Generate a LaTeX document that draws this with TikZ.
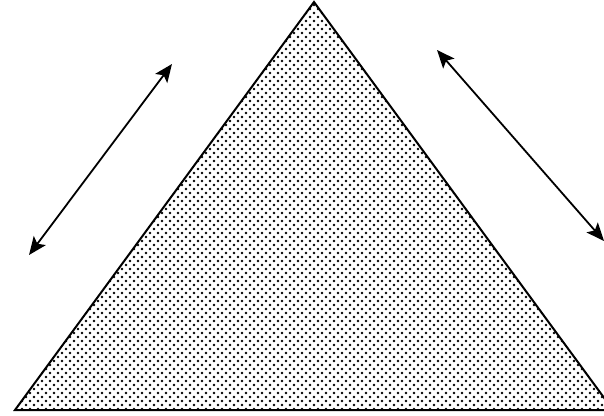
\documentclass[tikz,border=0pt]{standalone}
\usetikzlibrary{arrows.meta,patterns}
\pgfdeclarepatternformonly{mydots}{\pgfpoint{-1pt}{-1pt}}{\pgfpoint{10pt}{10pt}}{\pgfpoint{8pt}{8pt}}{%
  \pgfpathcircle{\pgfpoint{2pt}{2pt}}{1.3pt}%
  \pgfpathcircle{\pgfpoint{6pt}{6pt}}{1.3pt}%
  \pgfusepath{fill}}
\tikzset{
  edge/.style={line width=2pt, line join=miter},
  dbl/.style={line width=1.8pt, {Stealth[length=18pt,width=15pt,inset=4pt]}-{Stealth[length=18pt,width=15pt,inset=4pt]}}
}
\begin{document}
\begin{tikzpicture}[x=1pt,y=-1pt]
\useasboundingbox (0,0) rectangle (604,415);
\clip (0,0) rectangle (604,415);
\fill[white] (0,0) rectangle (604,415);
\coordinate (apex) at (314,2);
\coordinate (bl) at (15,410);
\coordinate (br) at (613,410);
\fill[pattern=mydots] (apex) -- (bl) -- (br) -- cycle;
\draw[edge] (apex) -- (bl) -- (br) -- cycle;
\coordinate (l1) at (29,255);
\coordinate (l2) at (172,64);
\coordinate (r1) at (437,50);
\coordinate (r2) at (604,241);
\draw[dbl] (l1) -- (l2);
\draw[dbl] (r1) -- (r2);
\end{tikzpicture}
\end{document}
